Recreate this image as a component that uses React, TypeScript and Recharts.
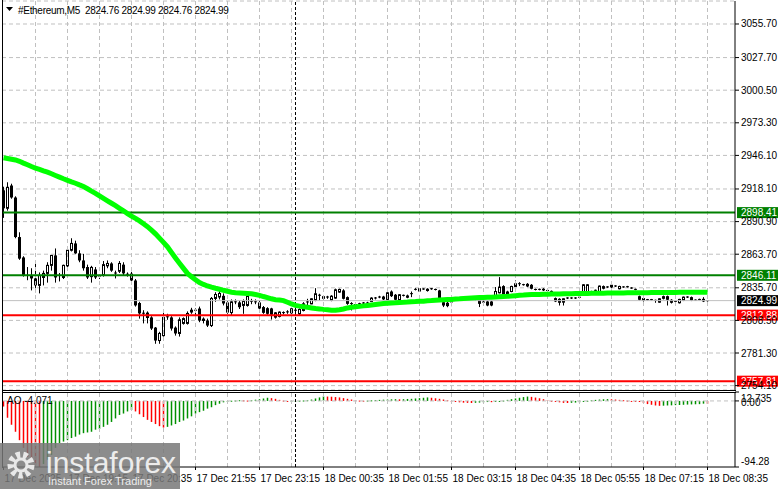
import React from 'react';
import { ComposedChart, Bar, Line, XAxis, YAxis, CartesianGrid, ReferenceLine } from 'recharts';

const openPrices = [
  2917, 2902, 2921, 2911, 2878, 2861, 2846, 2846, 2843.5, 2837.7,
  2844.3, 2847.7, 2854.4, 2862.7, 2845, 2844.3, 2854, 2867, 2872.7, 2864.4,
  2858.5, 2853, 2845, 2851, 2845, 2846, 2854, 2856, 2848, 2849.5,
  2855, 2847, 2847.5, 2841.8, 2823, 2814.5, 2815, 2811, 2802.5, 2791.7,
  2795.8, 2811, 2811, 2802.5, 2797.6, 2806, 2806, 2815.5, 2817, 2818.4,
  2810, 2808.4, 2804.2, 2826.8, 2828, 2829, 2823.5, 2815, 2823.5, 2823.5,
  2821, 2821, 2824.5, 2823.5, 2823.5, 2819.6, 2818.7, 2818.5, 2811.2, 2811.8,
  2815, 2815.2, 2814.8, 2817, 2814, 2816.8, 2823.5, 2822.3, 2825.1, 2829.5,
  2828.7, 2828, 2825.1, 2827.1, 2832.1, 2833.5, 2827.9, 2822.5, 2821.5, 2822.2,
  2822.6, 2822.8, 2824.3, 2827, 2827.6, 2828.4, 2826, 2832.6, 2829.9, 2825.7,
  2829.2, 2829.3, 2830.5, 2834.2, 2833, 2834.5, 2834.9, 2834.8, 2834.3, 2833.5,
  2823.7, 2823.2, 2823.5, 2827, 2827.1, 2826.4, 2827, 2827.2, 2827.1, 2827.1,
  2823.6, 2824.3, 2824.3, 2827.9, 2831.5, 2837.1, 2832.6, 2832.6, 2836.8, 2838.9,
  2838.1, 2839, 2838.2, 2834.3, 2834.4, 2834.9, 2833.5, 2832.7, 2827.1, 2826.5,
  2823.7, 2827, 2827.1, 2827.1, 2827.6, 2832.1, 2832.1, 2832.6, 2833.4, 2832.6,
  2837.1, 2836.2, 2838.2, 2837, 2834.9, 2836.3, 2836.6, 2835.5, 2834.4, 2828.7,
  2827.1, 2825.8, 2825.8, 2825.2, 2823.7, 2828.7, 2828.7, 2825.7, 2824.4, 2823.2,
  2825.1, 2827.8, 2827.9, 2825.4, 2825.8, 2826.5, 2824.76,
];

const highPrices = [
  2920, 2923.7, 2922.5, 2912, 2882, 2862, 2853, 2852, 2857, 2848.5,
  2850, 2857, 2863, 2868.5, 2848, 2855, 2869.5, 2877, 2875, 2867,
  2864, 2855, 2854, 2853, 2847, 2858, 2858.5, 2857, 2850, 2858,
  2857, 2848.5, 2849, 2843, 2824, 2817, 2816, 2812, 2803, 2799,
  2815, 2814, 2812, 2803.5, 2811, 2811, 2816, 2819, 2818.5, 2820,
  2811, 2810, 2828, 2832, 2834, 2831, 2824.5, 2826, 2826, 2825,
  2826, 2831, 2826.5, 2826, 2825, 2820.5, 2819.5, 2819, 2815.5, 2816,
  2816, 2817, 2819, 2818, 2818.5, 2823.7, 2826.5, 2827, 2835.4, 2830.7,
  2829.5, 2829, 2829.5, 2835, 2835, 2834.5, 2828.5, 2823.7, 2822.5, 2823.2,
  2823.8, 2824, 2827.8, 2828, 2829, 2829, 2832, 2833.5, 2830.5, 2830.5,
  2830, 2830, 2832.6, 2835.4, 2835.3, 2835.3, 2835.3, 2835.5, 2835, 2834,
  2824.5, 2824, 2826.5, 2828, 2828, 2827.3, 2828, 2828, 2828.7, 2827.6,
  2827.1, 2825, 2825, 2836.3, 2844.6, 2837.8, 2833.2, 2837.4, 2841.8, 2840.4,
  2839, 2839.6, 2838.8, 2835, 2835, 2835.4, 2834.2, 2833.4, 2827.6, 2827,
  2827, 2827.8, 2827.8, 2827.8, 2828.4, 2838.8, 2838.8, 2833.2, 2834.2, 2837.6,
  2837.6, 2837, 2838.8, 2837.8, 2837.4, 2837, 2837.3, 2836.2, 2835, 2829.2,
  2827.6, 2826.4, 2826.4, 2825.8, 2827, 2829.2, 2829.2, 2826.2, 2825, 2826.5,
  2828.4, 2828.6, 2828.4, 2826, 2826.6, 2827.9, 2824.99,
];

const lowPrices = [
  2894, 2900, 2910, 2877, 2859, 2845, 2842, 2833.5, 2832, 2831,
  2837.7, 2840, 2850, 2840, 2841, 2843, 2853, 2866, 2864, 2857,
  2850, 2843, 2840, 2843, 2843, 2845, 2852, 2849, 2843.5, 2848,
  2846, 2845, 2841, 2820, 2810, 2806, 2806, 2800.5, 2789, 2789,
  2795, 2809, 2800, 2795.8, 2795, 2805, 2805, 2814, 2812, 2807,
  2806, 2803, 2803, 2824, 2826, 2821, 2814, 2813, 2822, 2818,
  2814, 2820, 2822, 2822, 2817, 2814, 2813.2, 2809.2, 2810, 2811,
  2813.5, 2814, 2814, 2815.5, 2813, 2816, 2821, 2822, 2824.5, 2825.1,
  2826, 2826.5, 2824.5, 2826.5, 2831.5, 2826, 2821.5, 2816.8, 2820.5, 2821.5,
  2822, 2822, 2823.8, 2826, 2827, 2825.5, 2825.5, 2828, 2825, 2825,
  2828.5, 2827, 2827.9, 2833.5, 2832.5, 2834, 2832.5, 2834, 2833.5, 2826.5,
  2819.6, 2819.5, 2820.4, 2826.3, 2826.5, 2825.8, 2826.3, 2826.4, 2825.1, 2819.6,
  2820.9, 2820.3, 2820.3, 2827, 2831, 2829.3, 2829.3, 2832, 2836.5, 2837.1,
  2837.5, 2836.3, 2834.4, 2833.5, 2833.6, 2833, 2832.8, 2831.8, 2823.8, 2820.9,
  2820.9, 2826.3, 2826.4, 2826.4, 2827, 2831.5, 2831.5, 2831.9, 2832.8, 2832,
  2834.4, 2835.6, 2835.5, 2836.4, 2834.4, 2835.7, 2835.9, 2834.8, 2833.6, 2825,
  2824.2, 2825, 2825, 2823.2, 2823.2, 2826, 2820.9, 2822.6, 2823.6, 2822.6,
  2824.6, 2827.2, 2824.6, 2824.7, 2825.3, 2823.8, 2824.76,
];

const closePrices = [
  2902, 2919.5, 2911, 2878, 2860, 2846, 2845, 2843.5, 2837.7, 2846,
  2847.7, 2854.4, 2862.7, 2844.3, 2846, 2854.4, 2867, 2872.7, 2864.4, 2858.5,
  2852, 2844.3, 2852.7, 2844.3, 2845.5, 2855, 2856, 2850, 2847.5, 2856,
  2847.7, 2846.5, 2841.8, 2821, 2814.3, 2814, 2810.5, 2801.7, 2791.7, 2797.6,
  2811, 2811.5, 2801.7, 2797.6, 2809, 2810, 2814.3, 2817, 2816.5, 2808.4,
  2808, 2804.2, 2826.8, 2830.1, 2831, 2822.6, 2815, 2824, 2824, 2819.5,
  2824.3, 2828.5, 2824, 2824, 2818.4, 2814.8, 2814, 2813.2, 2814.8, 2815.4,
  2814.8, 2815.6, 2818.2, 2816.8, 2817.6, 2822.3, 2823.9, 2826.5, 2830.7, 2829.2,
  2826.5, 2827.8, 2828.7, 2834, 2834.3, 2826.5, 2822.3, 2822.2, 2821.7, 2822.4,
  2823, 2823, 2827.1, 2827.2, 2828, 2826, 2831.5, 2828.7, 2825.7, 2829.9,
  2829.4, 2827.4, 2830.8, 2834.4, 2834.9, 2834.7, 2833, 2834.9, 2834.2, 2827.1,
  2820.9, 2820.4, 2823.9, 2827.2, 2827.1, 2826.6, 2827.2, 2827, 2827.3, 2822.3,
  2823.8, 2820.9, 2820.9, 2832.6, 2836.3, 2829.9, 2829.9, 2836.8, 2839.05, 2839.1,
  2838.3, 2836.8, 2834.9, 2834.2, 2834.2, 2833.5, 2833.4, 2832.5, 2824.3, 2823.2,
  2826.5, 2827.2, 2827.2, 2827.2, 2827.8, 2838.2, 2838.2, 2832.5, 2833.6, 2837.1,
  2834.9, 2836.4, 2836, 2837.2, 2836.8, 2836.4, 2836.5, 2835.4, 2834.2, 2825.7,
  2824.8, 2825.6, 2825.6, 2825, 2826.5, 2826.5, 2825.7, 2823.2, 2824.2, 2826,
  2827.9, 2828, 2825.1, 2825.3, 2826, 2824.3, 2824.99,
];

const maValues = [
  2944.1, 2943.5, 2942.9, 2942.3, 2941.2, 2939.7, 2938.3, 2936.8, 2935.4, 2934.4,
  2933.2, 2932.1, 2930.8, 2929.4, 2928.0, 2926.6, 2925.3, 2924.0, 2922.9, 2921.5,
  2920.2, 2918.3, 2916.3, 2914.4, 2912.3, 2910.3, 2908.2, 2906.2, 2904.2, 2902.0,
  2899.9, 2897.6, 2895.5, 2893.5, 2891.5, 2889.1, 2886.7, 2883.8, 2880.7, 2877.1,
  2873.6, 2869.8, 2865.2, 2860.6, 2856.2, 2851.9, 2847.7, 2844.9, 2842.4, 2840.0,
  2838.5, 2837.2, 2836.2, 2835.3, 2834.5, 2833.6, 2832.8, 2832.0, 2831.6, 2831.4,
  2831.2, 2831.0, 2830.7, 2830.1, 2829.4, 2828.4, 2827.5, 2826.5, 2825.8, 2825.5,
  2825.0, 2823.6, 2822.2, 2821.0, 2820.4, 2819.9, 2819.4, 2818.9, 2818.4, 2818.1,
  2817.7, 2817.4, 2816.9, 2816.9, 2817.4, 2818.0, 2818.9, 2819.4, 2819.8, 2820.2,
  2820.6, 2821.0, 2821.4, 2821.8, 2822.2, 2822.6, 2822.8, 2823.0, 2823.2, 2823.5,
  2823.6, 2823.8, 2824.1, 2824.2, 2824.4, 2824.5, 2824.8, 2825.0, 2825.3, 2825.5,
  2825.7, 2825.9, 2826.0, 2826.3, 2826.5, 2826.8, 2827.0, 2827.2, 2827.4, 2827.5,
  2827.6, 2827.8, 2827.9, 2828.1, 2828.3, 2828.5, 2828.6, 2828.8, 2829.1, 2829.4,
  2829.6, 2829.9, 2830.1, 2830.1, 2830.2, 2830.3, 2830.4, 2830.5, 2830.5, 2830.6,
  2830.7, 2830.8, 2830.8, 2830.9, 2830.9, 2831.0, 2831.0, 2831.1, 2831.1, 2831.2,
  2831.2, 2831.3, 2831.3, 2831.4, 2831.4, 2831.4, 2831.5, 2831.5, 2831.5, 2831.6,
  2831.6, 2831.6, 2831.7, 2831.7, 2831.7, 2831.8, 2831.8, 2831.8, 2831.8, 2831.9,
  2831.9, 2831.9, 2831.9, 2832.0, 2832.0, 2832.0, 2832.0,
];

const aoValues = [
  -8, -24, -34, -44, -56, -67, -80, -87, -92, -94.28,
  -90, -84, -77, -67, -60, -58, -56, -53, -51, -48,
  -46, -45, -44, -41, -40, -37, -34, -30, -25, -20,
  -18, -15, -13, -15, -19, -23, -27, -30, -33, -36,
  -38, -37, -35, -33, -30, -28, -25, -22, -18, -16,
  -14, -11, -9, -6, -4, -2, -0.5, 0.3, 0.6, 1.0,
  0.8, 0.5, 1.0, 1.8, 2.5, 3.5, 4.5, 4.0, 3.0, 1.5,
  0.5, -0.5, -0.3, 0.2, 0.3, 0.6, 1.0, 2.0, 3.5, 5.0,
  6.5, 6.2, 6.0, 5.5, 5.0, 4.0, 3.0, 2.0, 1.0, 0.5,
  0.3, 0.5, 0.8, 1.2, 1.5, 1.8, 2.0, 2.3, 2.5, 2.3,
  2.5, 2.8, 3.0, 3.5, 4.0, 4.5, 5.0, 4.5, 3.8, 3.0,
  2.0, 1.0, -0.5, -1.5, -2.0, -2.5, -2.8, -3.0, -2.7, -2.4,
  -2.0, -1.6, -1.8, -1.5, -0.5, 0.5, 1.5, 2.5, 3.5, 4.5,
  5.5, 6.2, 5.8, 4.8, 3.8, 2.5, 1.2, 0.2, -1.0, -2.0,
  -2.8, -3.0, -2.7, -2.4, -2.0, -1.0, 0.2, 1.0, 1.5, 2.0,
  2.4, 2.6, 2.4, 2.0, 1.5, 1.0, 0.5, 0.0, -0.5, -1.5,
  -3.0, -4.5, -5.5, -6.5, -7.0, -6.8, -6.5, -6.3, -6.0, -5.8,
  -5.5, -5.2, -5.0, -4.8, -4.6, -3.9, -4.071,
];

const timeLabels = [
  '17 Dec 2025', '17 Dec 19:15', '17 Dec 20:35', '17 Dec 21:55', '17 Dec 23:15', '18 Dec 00:35',
  '18 Dec 01:55', '18 Dec 03:15', '18 Dec 04:35', '18 Dec 05:55', '18 Dec 07:15', '18 Dec 08:35',
];
const timeTickIndex = [0, 16, 32, 48, 64, 80, 96, 112, 128, 144, 160, 176];
const gridIndex = [8, 16, 24, 32, 40, 48, 56, 64, 72, 80, 88, 96, 104, 112, 120, 128, 136, 144, 152, 160, 168, 176];
const daySeparatorIndex = 73;

const priceTicks = [3055.7, 3027.7, 3000.5, 2973.3, 2946.1, 2918.1, 2890.9, 2863.7, 2835.7, 2808.5, 2781.3, 2754.1];
const aoTicks = [12.735, 0, -94.28];
const aoTickLabels = ['12.735', '0.00', '-94.28'];

const resistanceLevels = [2898.41, 2846.11];
const supportLevels = [2812.88, 2757.81];
const bidPrice = 2824.99;
const headerText = '#Ethereum,M5  2824.76 2824.99 2824.76 2824.99';
const aoLabel = 'AO -4.071';

const data = openPrices.map((o, i) => ({
  i,
  o,
  h: highPrices[i],
  l: lowPrices[i],
  c: closePrices[i],
  ma: maValues[i],
  ao: aoValues[i],
  aoUp: i > 0 && aoValues[i] > aoValues[i - 1] ? 1 : 0,
}));

const FONT = '"Liberation Sans", Arial, sans-serif';
const X_DOMAIN: [number, number] = [-0.375, 182.875];
const GREEN_LEVEL = '#008000';
const RED_LEVEL = '#ff0000';
const GRID = '#c0c0c0';

const Candle = (props: any) => {
  const { x, y, width, height, payload } = props;
  if (x == null || y == null || !payload) return null;
  const top = Math.min(y, y + height);
  const hgt = Math.abs(height);
  const cx = Math.round(x + width / 2 - 0.5) + 0.5;
  const { o, h, l, c } = payload;
  const range = h - l;
  const toY = (v: number) => (range > 0 ? top + ((h - v) / range) * hgt : top);
  const bTop = toY(Math.max(o, c));
  const bBot = toY(Math.min(o, c));
  const bull = c >= o;
  const bodyH = bBot - bTop;
  return (
    <g>
      <line x1={cx} x2={cx} y1={top} y2={top + Math.max(hgt, 1)} stroke="#000" strokeWidth={1} />
      {bodyH < 1.5 ? (
        <rect x={cx - 1.5} y={bTop - 0.5} width={3} height={1} fill="#000" />
      ) : bull ? (
        <rect x={cx - 1} y={bTop} width={2} height={bodyH} fill="#fff" stroke="#000" strokeWidth={1} />
      ) : (
        <rect x={cx - 1.5} y={bTop} width={3} height={bodyH} fill="#000" />
      )}
    </g>
  );
};

const AoBar = (props: any) => {
  const { x, y, width, height, payload } = props;
  if (x == null || y == null) return null;
  const up = payload && payload.aoUp === 1;
  const color = up ? '#009000' : '#ff0000';
  const top = Math.min(y, y + height);
  const hgt = Math.max(Math.abs(height), 1);
  const cx = Math.round(x + width / 2 - 0.5) + 0.5;
  return <line x1={cx} x2={cx} y1={top} y2={top + hgt} stroke={color} strokeWidth={1.5} />;
};

const LevelTag = (props: any) => {
  const { viewBox, value, color } = props;
  if (!viewBox) return null;
  const bx = viewBox.x + viewBox.width + 2;
  const by = viewBox.y;
  return (
    <g>
      <rect x={bx} y={by - 5.5} width={41} height={11} fill={color} />
      <text x={bx + 4} y={by + 3.5} fontSize={10} fontFamily={FONT} fill="#fff">
        {value.toFixed(2)}
      </text>
    </g>
  );
};

const PriceTick = (props: any) => {
  const { x, y, payload } = props;
  return (
    <text x={x} y={y} dy={3.5} textAnchor="start" fontSize={10} fontFamily={FONT} fill="#000">
      {Number(payload.value).toFixed(2)}
    </text>
  );
};

const AoTick = (props: any) => {
  const { x, y, payload } = props;
  const idx = aoTicks.indexOf(payload.value);
  const dy = idx === 0 ? 9.5 : idx === 1 ? 5.5 : -2.5;
  return (
    <text x={x} y={y} dy={dy} textAnchor="start" fontSize={10} fontFamily={FONT} fill="#000">
      {aoTickLabels[idx]}
    </text>
  );
};

const TimeTick = (props: any) => {
  const { x, y, payload } = props;
  const idx = timeTickIndex.indexOf(payload.value);
  return (
    <text x={x + 1} y={y} dy={9.5} textAnchor="start" fontSize={10} fontFamily={FONT} fill="#000">
      {timeLabels[idx]}
    </text>
  );
};

const hLine = (top: number, left: number, width: number) => (
  <div style={{ position: 'absolute', left, top, width, height: 1, background: '#000' }} />
);

export default function App() {
  return (
    <div style={{ position: 'absolute', left: 0, top: 0, width: 781, height: 489, background: '#fff', overflow: 'hidden' }}>
      <div style={{ position: 'absolute', left: 0, top: 0 }}>
        <ComposedChart width={781} height={390} data={data} margin={{ top: 1, right: 0, bottom: 0, left: 2 }}>
          <CartesianGrid vertical={false} stroke={GRID} strokeDasharray="4 3" />
          <XAxis type="number" dataKey="i" domain={X_DOMAIN} allowDataOverflow ticks={timeTickIndex} hide />
          <YAxis
            orientation="right"
            width={46}
            domain={[2750.45, 3074.88]}
            allowDataOverflow
            ticks={priceTicks}
            interval={0}
            tickSize={4}
            tickMargin={2}
            axisLine={{ stroke: '#000' }}
            tickLine={{ stroke: '#000' }}
            tick={<PriceTick />}
          />
          {gridIndex.map((g) => (
            <ReferenceLine key={'vg' + g} x={g} stroke={GRID} strokeDasharray="4 3" />
          ))}
          <ReferenceLine x={daySeparatorIndex} stroke="#000" strokeDasharray="3 2" />
          <ReferenceLine y={bidPrice} stroke={GRID} label={<LevelTag value={bidPrice} color="#000" />} />
          {resistanceLevels.map((v) => (
            <ReferenceLine key={'r' + v} y={v} stroke={GREEN_LEVEL} strokeWidth={2} label={<LevelTag value={v} color={GREEN_LEVEL} />} />
          ))}
          {supportLevels.map((v) => (
            <ReferenceLine key={'s' + v} y={v} stroke={RED_LEVEL} strokeWidth={2} label={<LevelTag value={v} color={RED_LEVEL} />} />
          ))}
          <Bar dataKey={(d: any) => [d.l, d.h]} barSize={3} isAnimationActive={false} shape={(p: any) => <Candle {...p} />} />
          <Line dataKey="ma" stroke="#00ff00" strokeWidth={5} dot={false} isAnimationActive={false} type="linear" />
        </ComposedChart>
      </div>
      <div style={{ position: 'absolute', left: 0, top: 391 }}>
        <ComposedChart width={781} height={98} data={data} margin={{ top: 1, right: 0, bottom: 0, left: 2 }}>
          <XAxis
            type="number"
            dataKey="i"
            domain={X_DOMAIN}
            allowDataOverflow
            ticks={timeTickIndex}
            interval={0}
            height={22}
            tickSize={3}
            tickMargin={2}
            axisLine={{ stroke: '#000' }}
            tickLine={{ stroke: '#000' }}
            tick={<TimeTick />}
          />
          <YAxis
            orientation="right"
            width={46}
            domain={[-94.28, 12.735]}
            allowDataOverflow
            ticks={aoTicks}
            interval={0}
            tickSize={4}
            tickMargin={2}
            axisLine={{ stroke: '#000' }}
            tickLine={{ stroke: '#000' }}
            tick={<AoTick />}
          />
          {gridIndex.map((g) => (
            <ReferenceLine key={'avg' + g} x={g} stroke={GRID} strokeDasharray="4 3" />
          ))}
          <ReferenceLine y={0} stroke={GRID} strokeDasharray="4 3" />
          <ReferenceLine x={daySeparatorIndex} stroke="#000" strokeDasharray="3 2" />
          <Bar dataKey="ao" barSize={1} isAnimationActive={false} shape={(p: any) => <AoBar {...p} />} />
        </ComposedChart>
      </div>
      <div style={{ position: 'absolute', left: 2, top: 0, width: 1, height: 468, background: '#000' }} />
      {hLine(390, 2, 734)}
      {hLine(392, 2, 734)}
      <svg width={781} height={489} style={{ position: 'absolute', left: 0, top: 0, pointerEvents: 'none' }}>
        <polygon points="6,7 13,7 9.5,11" fill="#000" />
        <text x={18} y={13.5} fontSize={10} fontFamily={FONT} fill="#000" letterSpacing={-0.3} style={{ whiteSpace: 'pre' }}>
          {headerText}
        </text>
        <text x={7} y={404} fontSize={10} fontFamily={FONT} fill="#000">
          {aoLabel}
        </text>
        <rect x={0} y={443} width={180} height={46} fill="rgb(120,120,120)" fillOpacity={0.85} />
        <g stroke="#e8e8e8" fill="none">
          <circle cx={21} cy={465} r={10} strokeWidth={7} strokeDasharray="4 3" />
          <circle cx={21} cy={465} r={6} strokeWidth={3} />
        </g>
        <text x={46} y={473} fontSize={30} fontFamily={FONT} fill="#ececec">
          instaforex
        </text>
        <text x={48} y={485} fontSize={11} fontFamily={FONT} fill="#ececec">
          Instant Forex Trading
        </text>
      </svg>
    </div>
  );
}
